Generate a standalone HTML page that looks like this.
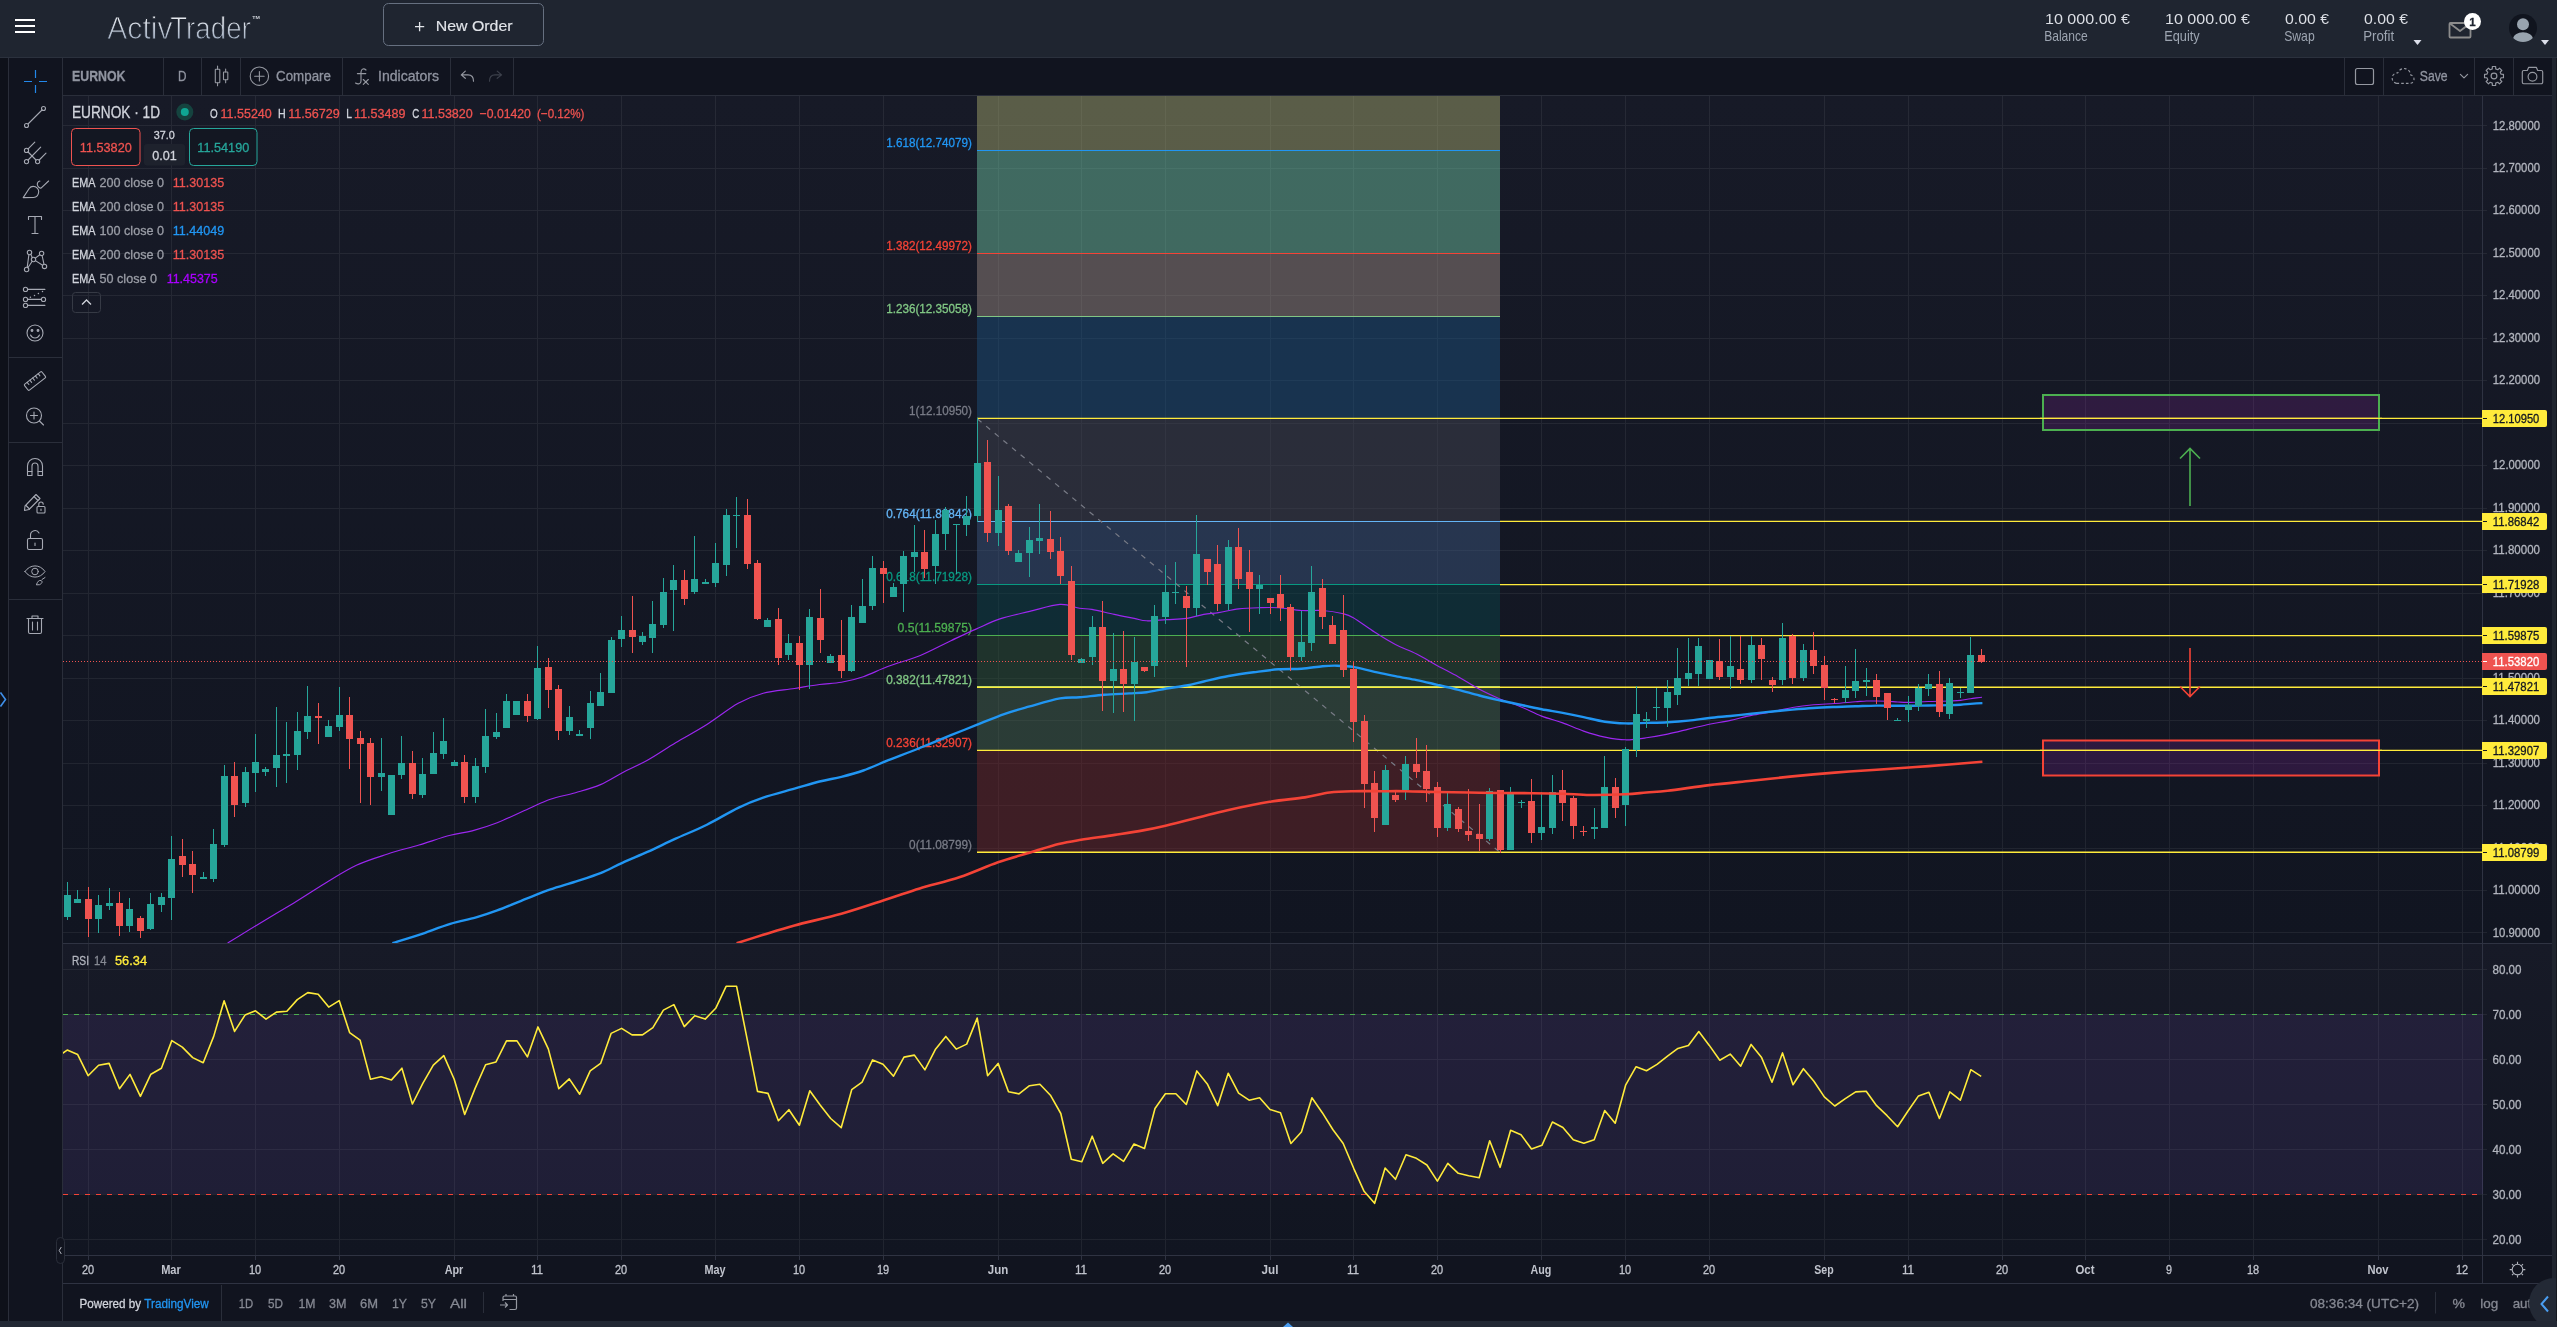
<!DOCTYPE html>
<html><head><meta charset="utf-8"><title>ActivTrader</title>
<style>html,body{margin:0;padding:0;background:#11141f;width:2557px;height:1327px;overflow:hidden;font-family:"Liberation Sans", sans-serif}svg text{font-family:"Liberation Sans", sans-serif}</style>
</head><body>
<svg width="2557" height="1327" viewBox="0 0 2557 1327" font-family='"Liberation Sans", sans-serif' style="display:block;will-change:transform">
<defs>
<linearGradient id="pg" x1="0" y1="0" x2="0" y2="1"><stop offset="0" stop-color="#171a27"/><stop offset="1" stop-color="#111521"/></linearGradient>
<linearGradient id="lg" x1="0" y1="0" x2="0" y2="1"><stop offset="0" stop-color="#ffffff"/><stop offset="1" stop-color="#8f9fb6"/></linearGradient>
<clipPath id="cm"><rect x="63" y="96" width="2420" height="847"/></clipPath>
<clipPath id="cr"><rect x="63" y="944" width="2420" height="311"/></clipPath>
</defs>
<rect x="0" y="0" width="2557" height="1327" fill="#11141f" />
<rect x="0" y="0" width="2557" height="58" fill="#1f2530" />
<line x1="0" y1="57.5" x2="2557" y2="57.5" stroke="#2b313d" stroke-width="1" />
<rect x="0" y="58" width="8" height="1263" fill="#0e111a" />
<line x1="8.5" y1="58" x2="8.5" y2="1321" stroke="#2a2e3a" stroke-width="1" />
<line x1="62.5" y1="58" x2="62.5" y2="1321" stroke="#2a2e3a" stroke-width="1" />
<rect x="2552" y="58" width="5" height="1263" fill="#20252f" />
<rect x="2556" y="58" width="1" height="1263" fill="#15181f" />
<line x1="63" y1="95.5" x2="2552" y2="95.5" stroke="#2a2e3a" stroke-width="1" />
<rect x="15" y="19" width="20" height="2" fill="#ffffff" />
<rect x="15" y="25" width="20" height="2" fill="#ffffff" />
<rect x="15" y="31" width="20" height="2" fill="#ffffff" />
<text x="107.3" y="38.7" font-size="31.6" fill="url(#lg)" stroke="#1f2530" stroke-width="0.95" textLength="65.2" lengthAdjust="spacingAndGlyphs">Activ</text>
<text x="170.2" y="38.7" font-size="31.6" fill="url(#lg)" stroke="#1f2530" stroke-width="0.95" textLength="80.6" lengthAdjust="spacingAndGlyphs">Trader</text>
<text x="252.3" y="19.3" font-size="4.2" fill="#d0d4dc" text-anchor="start" font-weight="bold" textLength="7.6" lengthAdjust="spacingAndGlyphs" >TM</text>
<rect x="383.5" y="3.5" width="160" height="42" rx="5" fill="none" stroke="#667080" stroke-width="1"/>
<path d="M415 26.7H424.2M419.6 22.1V31.3" stroke="#e3e6ea" stroke-width="1.3" fill="none"/>
<text x="435.7" y="30.9" font-size="15.2" fill="#e1e4e9" text-anchor="start" font-weight="normal" textLength="76.9" lengthAdjust="spacingAndGlyphs"  stroke="#e1e4e9" stroke-width="0.15">New Order</text>
<text x="2045" y="24.2" font-size="15.1" fill="#dcdfe5" text-anchor="start" font-weight="normal" textLength="85" lengthAdjust="spacingAndGlyphs" >10 000.00 €</text>
<text x="2044.2" y="40.8" font-size="14.5" fill="#9da5b1" text-anchor="start" font-weight="normal" textLength="43.5" lengthAdjust="spacingAndGlyphs" >Balance</text>
<text x="2165" y="24.2" font-size="15.1" fill="#dcdfe5" text-anchor="start" font-weight="normal" textLength="85" lengthAdjust="spacingAndGlyphs" >10 000.00 €</text>
<text x="2164.2" y="40.8" font-size="14.5" fill="#9da5b1" text-anchor="start" font-weight="normal" textLength="35.5" lengthAdjust="spacingAndGlyphs" >Equity</text>
<text x="2285" y="24.2" font-size="15.1" fill="#dcdfe5" text-anchor="start" font-weight="normal" textLength="44" lengthAdjust="spacingAndGlyphs" >0.00 €</text>
<text x="2284.2" y="40.8" font-size="14.5" fill="#9da5b1" text-anchor="start" font-weight="normal" textLength="30.5" lengthAdjust="spacingAndGlyphs" >Swap</text>
<text x="2364" y="24.2" font-size="15.1" fill="#dcdfe5" text-anchor="start" font-weight="normal" textLength="44" lengthAdjust="spacingAndGlyphs" >0.00 €</text>
<text x="2363.2" y="40.8" font-size="14.5" fill="#9da5b1" text-anchor="start" font-weight="normal" textLength="31.0" lengthAdjust="spacingAndGlyphs" >Profit</text>
<path d="M2413.5 40H2421.5L2417.5 45Z" fill="#dcdfea"/>
<path d="M2541 40H2549L2545 45Z" fill="#dcdfea"/>
<g fill="none" stroke="#8c8c8c" stroke-width="1.8" stroke-linejoin="round"><rect x="2449.5" y="23" width="21" height="14.5" rx="1"/><path d="M2450 23.5L2460 31L2470 23.5"/></g>
<circle cx="2472.5" cy="21.6" r="8.5" fill="#ffffff"/>
<text x="2472.5" y="25.8" font-size="11.5" fill="#1f2530" text-anchor="middle" font-weight="bold"  stroke="#1f2530" stroke-width="0.3">1</text>
<circle cx="2523" cy="28" r="14" fill="#10141e"/>
<clipPath id="av"><circle cx="2523" cy="28" r="14"/></clipPath><circle cx="2523" cy="24.2" r="6" fill="#98a3ae"/><ellipse cx="2523" cy="38.6" rx="10" ry="6.3" fill="#98a3ae" clip-path="url(#av)"/>
<line x1="163.5" y1="58" x2="163.5" y2="95" stroke="#2a2e3a" stroke-width="1" />
<line x1="201.5" y1="58" x2="201.5" y2="95" stroke="#2a2e3a" stroke-width="1" />
<line x1="240.5" y1="58" x2="240.5" y2="95" stroke="#2a2e3a" stroke-width="1" />
<line x1="342.5" y1="58" x2="342.5" y2="95" stroke="#2a2e3a" stroke-width="1" />
<line x1="450.5" y1="58" x2="450.5" y2="95" stroke="#2a2e3a" stroke-width="1" />
<line x1="513.5" y1="58" x2="513.5" y2="95" stroke="#2a2e3a" stroke-width="1" />
<line x1="2344.5" y1="58" x2="2344.5" y2="95" stroke="#2a2e3a" stroke-width="1" />
<line x1="2383.5" y1="58" x2="2383.5" y2="95" stroke="#2a2e3a" stroke-width="1" />
<line x1="2474.5" y1="58" x2="2474.5" y2="95" stroke="#2a2e3a" stroke-width="1" />
<line x1="2513.5" y1="58" x2="2513.5" y2="95" stroke="#2a2e3a" stroke-width="1" />
<text x="72" y="81" font-size="14" fill="#9094a0" text-anchor="start" font-weight="bold" textLength="53.5" lengthAdjust="spacingAndGlyphs"  stroke="#9094a0" stroke-width="0.3">EURNOK</text>
<text x="178" y="81" font-size="14" fill="#9094a0" text-anchor="start" font-weight="normal" textLength="8.5" lengthAdjust="spacingAndGlyphs"  stroke="#9094a0" stroke-width="0.3">D</text>
<text x="276" y="81" font-size="14" fill="#9094a0" text-anchor="start" font-weight="normal" textLength="55" lengthAdjust="spacingAndGlyphs"  stroke="#9094a0" stroke-width="0.3">Compare</text>
<text x="378" y="81" font-size="14" fill="#9094a0" text-anchor="start" font-weight="normal" textLength="61" lengthAdjust="spacingAndGlyphs"  stroke="#9094a0" stroke-width="0.3">Indicators</text>
<text x="2419.8" y="81" font-size="14" fill="#9094a0" text-anchor="start" font-weight="normal" textLength="27.8" lengthAdjust="spacingAndGlyphs"  stroke="#9094a0" stroke-width="0.3">Save</text>
<g transform="translate(222,76)" fill="none" stroke="#9598a1" stroke-width="1.1" stroke-linecap="round" stroke-linejoin="round" ><rect x="-6.7" y="-6.7" width="4.5" height="13.5" rx="0.5"/><path d="M-4.45-10V-6.7M-4.45 6.8V9.8"/><rect x="1.5" y="-4" width="4.3" height="7.7" rx="0.5"/><path d="M3.65-7V-4M3.65 3.7V6.7"/></g>
<g transform="translate(259.4,76.2)" fill="none" stroke="#9598a1" stroke-width="1.1" stroke-linecap="round" stroke-linejoin="round" ><circle r="9.2"/><path d="M-4.75 0H4.75M0-4.75V4.75"/></g>
<g transform="translate(361,76)" fill="none" stroke="#9598a1" stroke-width="1.15" stroke-linecap="round" stroke-linejoin="round" ><path d="M5-6C3-8 0.3-7.5 0-4V5C0 8-3 8.5-5.5 7M-3.6-2.4H4.8"/><path d="M2.3 3.5L7.3 8.3M7.3 3.5L2.3 8.3"/></g>
<g transform="translate(467.5,76)" fill="none" stroke="#9598a1" stroke-width="1.15" stroke-linecap="round" stroke-linejoin="round" ><path d="M-2.2-4.9L-6.2-1.1L-2.2 2.3M-6.2-1.1H0.5C4.5-1.1 6 2 6 5.2"/></g>
<g transform="translate(495.5,76)" fill="none" stroke="#3c404b" stroke-width="1.15" stroke-linecap="round" stroke-linejoin="round" ><path d="M1.7-4.9L6.1-1.1L1.7 2.3M6.1-1.1H-0.5C-4.5-1.1-6 2-6 5.2"/></g>
<g transform="translate(2364.5,76.5)" fill="none" stroke="#9598a1" stroke-width="1.2" stroke-linecap="round" stroke-linejoin="round" ><rect x="-9" y="-8" width="18" height="16" rx="2"/></g>
<g transform="translate(2403,77.5)" fill="none" stroke="#9598a1" stroke-width="1.1" stroke-linecap="round" stroke-linejoin="round" ><path stroke-linecap="butt" d="M-6.5 5.9H7A4.3 4.3 0 0 0 7.6-2.6A6.6 6.6 0 0 0-5.2-4.6A5.3 5.3 0 0 0-6.5 5.9Z" stroke-dasharray="2.6 2.1"/></g>
<g transform="translate(2464,76)" fill="none" stroke="#9598a1" stroke-width="1.15" stroke-linecap="round" stroke-linejoin="round" ><path d="M-3.6-1.7L0 1.8L3.6-1.7"/></g>
<g transform="translate(2494,76)" fill="none" stroke="#9598a1" stroke-width="1.15" stroke-linecap="round" stroke-linejoin="round" ><path d="M9.46 -1.65L9.46 1.65L7.10 1.70L6.22 3.81L7.85 5.52L5.52 7.85L3.81 6.22L1.70 7.10L1.65 9.46L-1.65 9.46L-1.70 7.10L-3.81 6.22L-5.52 7.85L-7.85 5.52L-6.22 3.81L-7.10 1.70L-9.46 1.65L-9.46 -1.65L-7.10 -1.70L-6.22 -3.81L-7.85 -5.52L-5.52 -7.85L-3.81 -6.22L-1.70 -7.10L-1.65 -9.46L1.65 -9.46L1.70 -7.10L3.81 -6.22L5.52 -7.85L7.85 -5.52L6.22 -3.81L7.10 -1.70Z" stroke-linejoin="round"/><circle r="2.9"/></g>
<g transform="translate(2532.5,76.5)" fill="none" stroke="#9598a1" stroke-width="1.15" stroke-linecap="round" stroke-linejoin="round" ><path d="M-8.8-6H-5.2L-3.8-9.2H3.8L5.2-6H8.8A1.4 1.4 0 0 1 10.2-4.6V5.8A1.4 1.4 0 0 1 8.8 7.2H-8.8A1.4 1.4 0 0 1-10.2 5.8V-4.6A1.4 1.4 0 0 1-8.8-6Z"/><circle cy="0.2" r="4.4"/></g>
<g transform="translate(35.5,81.5)" fill="none" stroke="#2388ea" stroke-width="1.2" stroke-linecap="round" stroke-linejoin="round" ><path stroke-linecap="butt" d="M0-11.5V-3.5M0 3.5V11.5M-11.5 0H-3.5M3.5 0H11.5"/></g>
<g transform="translate(35,117)" fill="none" stroke="#a6a9b3" stroke-width="1.1" stroke-linecap="round" stroke-linejoin="round" ><circle cx="-8.5" cy="8.5" r="2"/><circle cx="8.5" cy="-8.5" r="2"/><path d="M-7 7L7-7"/></g>
<g transform="translate(35,153)" fill="none" stroke="#a6a9b3" stroke-width="1.1" stroke-linecap="round" stroke-linejoin="round" ><circle cx="-8.5" cy="-2.6" r="2.1"/><circle cx="-8.5" cy="8.6" r="2.1"/><circle cx="2.6" cy="8.6" r="2.1"/><path d="M-6.9-4.2L-0.2-10.9M-6.9 7L5.7-5.9M4.2 7L11 0.1M-6.9-1L1 7"/></g>
<g transform="translate(35,189)" fill="none" stroke="#a6a9b3" stroke-width="1.1" stroke-linecap="round" stroke-linejoin="round" ><path d="M-11.8 8.6L-5.8-0.5C-4.5-2.3-3-2.6-1.9-2.6C1.5-2.6 3.9 0 3.7 2.8C3.5 6 1.5 8.3-1.5 8.5Z"/><path d="M4.9-8C2.5-7.5 1.6-5 2.8-3C3.8-1.2 5.2-0.6 6.3-1.1L13.6-8"/></g>
<g transform="translate(35,225)" fill="none" stroke="#a6a9b3" stroke-width="1.1" stroke-linecap="round" stroke-linejoin="round" ><path d="M-6.5-5.5V-8.5H6.5V-5.5M0-8.5V8.5M-3 8.5H3"/></g>
<g transform="translate(35,261)" fill="none" stroke="#a6a9b3" stroke-width="1.1" stroke-linecap="round" stroke-linejoin="round" ><circle cx="-5.5" cy="-8.5" r="2.2"/><circle cx="6.6" cy="-7.6" r="2.2"/><circle cx="-1.5" cy="-1.5" r="2.2"/><circle cx="-8.4" cy="8.5" r="2.2"/><circle cx="9.5" cy="5.4" r="2.2"/><path d="M-6.1-6.4L-7.8 6.4M-4.2-6.7L-2.7-3.3M0.3-2.9L4.8-6.3M7.1-5.5L9 3.3M0.4-0.4L7.6 4.2M-2.8 0.3L-7.1 6.7"/></g>
<g transform="translate(35,297)" fill="none" stroke="#a6a9b3" stroke-width="1.1" stroke-linecap="round" stroke-linejoin="round" ><circle cx="-9.5" cy="-7.6" r="2.1"/><circle cx="-9.5" cy="2.4" r="2.1"/><circle cx="8.5" cy="2.4" r="2.1"/><circle cx="-9.5" cy="8.4" r="2.1"/><path d="M-7.4-7.6H9.9M-7.4 2.4H6.4M-7.4 8.4H9.9"/><path d="M-4.6 0.2h0.01M-0.5-1.6h0.01M3.4-3.6h0.01M7.5-5.5h0.01" stroke-width="1.5"/></g>
<g transform="translate(35,333)" fill="none" stroke="#a6a9b3" stroke-width="1.1" stroke-linecap="round" stroke-linejoin="round" ><circle r="8"/><circle cx="-3" cy="-2.5" r="0.9" fill="#a6a9b3"/><circle cx="3" cy="-2.5" r="0.9" fill="#a6a9b3"/><path d="M-4.5 2C-2.5 6 2.5 6 4.5 2"/></g>
<g transform="translate(35,381)" fill="none" stroke="#a6a9b3" stroke-width="1.1" stroke-linecap="round" stroke-linejoin="round" ><g transform="rotate(-38)"><rect x="-11" y="-3.8" width="22" height="7.6" rx="1"/><path d="M-7-3.8V-1M-3.5-3.8V-1M0-3.8V-1M3.5-3.8V-1M7-3.8V-1"/></g></g>
<g transform="translate(35,417)" fill="none" stroke="#a6a9b3" stroke-width="1.1" stroke-linecap="round" stroke-linejoin="round" ><circle cx="-1" cy="-1.5" r="7.5"/><path d="M-4.5-1.5H2.5M-1-5V2M4.5 4L8.5 8"/></g>
<g transform="translate(35,467)" fill="none" stroke="#a6a9b3" stroke-width="1.1" stroke-linecap="round" stroke-linejoin="round" ><path d="M-7.5 8.5V-1A7.5 7.5 0 0 1 7.5-1V8.5H3V-1A3 3 0 0 0-3-1V8.5Z"/><path d="M-7.5 4.5H-3M3 4.5H7.5"/></g>
<g transform="translate(35,503)" fill="none" stroke="#a6a9b3" stroke-width="1.1" stroke-linecap="round" stroke-linejoin="round" ><path d="M-10 3L1-8.5L5-4.5L-6 6.5L-10.5 7.5Z"/><path d="M-1-6.5L3-2.5M-9 2.5L-5.5 6"/><rect x="2" y="3.5" width="8" height="6.5" rx="1"/><path d="M3.8 3.5V1.2A2.2 2.2 0 0 1 8.2 1.2"/><path d="M6 6V7.5"/></g>
<g transform="translate(35,540)" fill="none" stroke="#a6a9b3" stroke-width="1.1" stroke-linecap="round" stroke-linejoin="round" ><rect x="-7.5" y="-1.5" width="15" height="11" rx="1.5"/><path d="M-4.5-1.5V-5A4.5 4.5 0 0 1 4-7"/><path d="M0 3V5.5"/></g>
<g transform="translate(35,574)" fill="none" stroke="#a6a9b3" stroke-width="1.0" stroke-linecap="round" stroke-linejoin="round" ><path d="M-10-2.5C-5-10 5-10 10-2.5C5 5-5 5-10-2.5Z"/><circle cx="0" cy="-2.5" r="3.3"/><path d="M1.5 10.5C2.5 7.5 4 6 6 6.5C8 7.5 7 9.5 5 10.5ZM7 5.5L10 3.5"/></g>
<g transform="translate(35,625)" fill="none" stroke="#a6a9b3" stroke-width="1.1" stroke-linecap="round" stroke-linejoin="round" ><path d="M-8-6.5H8M-3-6.5V-9H3V-6.5M-6.5-6.5V7A1.5 1.5 0 0 0-5 8.5H5A1.5 1.5 0 0 0 6.5 7V-6.5M-2.5-3V5M2.5-3V5"/></g>
<line x1="9" y1="357.5" x2="62" y2="357.5" stroke="#2a2e3a" stroke-width="1" />
<line x1="9" y1="442.5" x2="62" y2="442.5" stroke="#2a2e3a" stroke-width="1" />
<line x1="9" y1="599.5" x2="62" y2="599.5" stroke="#2a2e3a" stroke-width="1" />
<path d="M0.5 692.5L5.5 699.5L0.5 706.5" fill="none" stroke="#3f8fe8" stroke-width="1.6"/>
<rect x="63" y="96" width="2489" height="847" fill="url(#pg)" />
<rect x="63" y="944" width="2489" height="311" fill="url(#pg)" />
<rect x="63" y="1255" width="2489" height="66" fill="#11141f" />
<path d="M88.5 96V943M88.5 944V1259M171.5 96V943M171.5 944V1259M255.5 96V943M255.5 944V1259M339.5 96V943M339.5 944V1259M454.5 96V943M454.5 944V1259M537.5 96V943M537.5 944V1259M621.5 96V943M621.5 944V1259M715.5 96V943M715.5 944V1259M799.5 96V943M799.5 944V1259M883.5 96V943M883.5 944V1259M998.5 96V943M998.5 944V1259M1081.5 96V943M1081.5 944V1259M1165.5 96V943M1165.5 944V1259M1270.5 96V943M1270.5 944V1259M1353.5 96V943M1353.5 944V1259M1437.5 96V943M1437.5 944V1259M1541.5 96V943M1541.5 944V1259M1625.5 96V943M1625.5 944V1259M1709.5 96V943M1709.5 944V1259M1824.5 96V943M1824.5 944V1259M1908.5 96V943M1908.5 944V1259M2002.5 96V943M2002.5 944V1259M2085.5 96V943M2085.5 944V1259M2169.5 96V943M2169.5 944V1259M2253.5 96V943M2253.5 944V1259M2378.5 96V943M2378.5 944V1259M2462.5 96V943M2462.5 944V1259M63 125.5H2487M63 168.5H2487M63 210.5H2487M63 253.5H2487M63 295.5H2487M63 338.5H2487M63 380.5H2487M63 423.5H2487M63 465.5H2487M63 508.5H2487M63 550.5H2487M63 593.5H2487M63 635.5H2487M63 678.5H2487M63 720.5H2487M63 763.5H2487M63 805.5H2487M63 848.5H2487M63 890.5H2487M63 932.5H2487M63 969.5H2487M63 1014.5H2487M63 1059.5H2487M63 1104.5H2487M63 1149.5H2487M63 1194.5H2487M63 1239.5H2487" stroke="rgba(255,255,255,0.065)" stroke-width="1" fill="none" shape-rendering="crispEdges"/>
<line x1="63" y1="943.5" x2="2552" y2="943.5" stroke="#2f3342" stroke-width="1" />
<line x1="63" y1="1255.5" x2="2552" y2="1255.5" stroke="#2f3342" stroke-width="1" />
<line x1="63" y1="1283.5" x2="2552" y2="1283.5" stroke="#2f3342" stroke-width="1" />
<line x1="2482.5" y1="96" x2="2482.5" y2="1283" stroke="#2f3342" stroke-width="1" />
<rect x="977" y="96" width="523" height="54.6" fill="rgba(174,175,113,0.45)" />
<rect x="977" y="150.6" width="523" height="102.4" fill="rgba(115,205,169,0.45)" />
<rect x="977" y="253.0" width="523" height="63.3" fill="rgba(162,145,136,0.45)" />
<rect x="977" y="316.4" width="523" height="102.4" fill="rgba(28,84,130,0.45)" />
<rect x="977" y="418.8" width="523" height="102.4" fill="rgba(68,71,84,0.45)" />
<rect x="977" y="521.2" width="523" height="63.3" fill="rgba(63,92,132,0.45)" />
<rect x="977" y="584.5" width="523" height="51.2" fill="rgba(10,72,75,0.45)" />
<rect x="977" y="635.7" width="523" height="51.2" fill="rgba(46,86,55,0.45)" />
<rect x="977" y="686.9" width="523" height="63.3" fill="rgba(73,106,80,0.45)" />
<rect x="977" y="750.3" width="523" height="102.4" fill="rgba(118,40,43,0.45)" />
<line x1="977" y1="150.5" x2="1500" y2="150.5" stroke="#2196f3" stroke-width="1.2" />
<line x1="977" y1="253.5" x2="1500" y2="253.5" stroke="#f44336" stroke-width="1.2" />
<line x1="977" y1="316.5" x2="1500" y2="316.5" stroke="#81c784" stroke-width="1.2" />
<line x1="977" y1="418.5" x2="1500" y2="418.5" stroke="#787b86" stroke-width="1.2" />
<line x1="977" y1="521.5" x2="1500" y2="521.5" stroke="#64b5f6" stroke-width="1.2" />
<line x1="977" y1="584.5" x2="1500" y2="584.5" stroke="#089981" stroke-width="1.2" />
<line x1="977" y1="635.5" x2="1500" y2="635.5" stroke="#4caf50" stroke-width="1.2" />
<line x1="977" y1="686.5" x2="1500" y2="686.5" stroke="#81c784" stroke-width="1.2" />
<line x1="977" y1="750.5" x2="1500" y2="750.5" stroke="#f44336" stroke-width="1.2" />
<line x1="977" y1="852.5" x2="1500" y2="852.5" stroke="#787b86" stroke-width="1.2" />
<line x1="977.5" y1="419" x2="1499.5" y2="852" stroke="#787b86" stroke-width="1.2" stroke-dasharray="5.2 6"/>
<text x="972" y="147.2" font-size="12" fill="#2196f3" text-anchor="end" font-weight="normal" textLength="85.8" lengthAdjust="spacingAndGlyphs"  stroke="#2196f3" stroke-width="0.3">1.618(12.74079)</text>
<text x="972" y="250.2" font-size="12" fill="#f44336" text-anchor="end" font-weight="normal" textLength="85.8" lengthAdjust="spacingAndGlyphs"  stroke="#f44336" stroke-width="0.3">1.382(12.49972)</text>
<text x="972" y="313.2" font-size="12" fill="#81c784" text-anchor="end" font-weight="normal" textLength="85.8" lengthAdjust="spacingAndGlyphs"  stroke="#81c784" stroke-width="0.3">1.236(12.35058)</text>
<text x="972" y="415.2" font-size="12" fill="#787b86" text-anchor="end" font-weight="normal" textLength="62.9" lengthAdjust="spacingAndGlyphs"  stroke="#787b86" stroke-width="0.3">1(12.10950)</text>
<text x="972" y="518.2" font-size="12" fill="#64b5f6" text-anchor="end" font-weight="normal" textLength="85.8" lengthAdjust="spacingAndGlyphs"  stroke="#64b5f6" stroke-width="0.3">0.764(11.86842)</text>
<text x="972" y="581.2" font-size="12" fill="#089981" text-anchor="end" font-weight="normal" textLength="85.8" lengthAdjust="spacingAndGlyphs"  stroke="#089981" stroke-width="0.3">0.618(11.71928)</text>
<text x="972" y="632.2" font-size="12" fill="#4caf50" text-anchor="end" font-weight="normal" textLength="74.4" lengthAdjust="spacingAndGlyphs"  stroke="#4caf50" stroke-width="0.3">0.5(11.59875)</text>
<text x="972" y="684.2" font-size="12" fill="#81c784" text-anchor="end" font-weight="normal" textLength="85.8" lengthAdjust="spacingAndGlyphs"  stroke="#81c784" stroke-width="0.3">0.382(11.47821)</text>
<text x="972" y="747.2" font-size="12" fill="#f44336" text-anchor="end" font-weight="normal" textLength="85.8" lengthAdjust="spacingAndGlyphs"  stroke="#f44336" stroke-width="0.3">0.236(11.32907)</text>
<text x="972" y="849.2" font-size="12" fill="#787b86" text-anchor="end" font-weight="normal" textLength="62.9" lengthAdjust="spacingAndGlyphs"  stroke="#787b86" stroke-width="0.3">0(11.08799)</text>
<line x1="977" y1="418.4" x2="2483" y2="418.4" stroke="#ffeb3b" stroke-width="1.4" />
<line x1="1500" y1="521.4" x2="2483" y2="521.4" stroke="#ffeb3b" stroke-width="1.4" />
<line x1="1500" y1="584.6" x2="2483" y2="584.6" stroke="#ffeb3b" stroke-width="1.4" />
<line x1="1500" y1="635.6" x2="2483" y2="635.6" stroke="#ffeb3b" stroke-width="1.4" />
<line x1="977" y1="687.3" x2="2483" y2="687.3" stroke="#ffeb3b" stroke-width="1.4" />
<line x1="977" y1="750.4" x2="2483" y2="750.4" stroke="#ffeb3b" stroke-width="1.4" />
<line x1="977" y1="852.3" x2="2483" y2="852.3" stroke="#ffeb3b" stroke-width="1.4" />
<rect x="2043" y="395" width="336" height="35" fill="rgba(156,39,176,0.2)" stroke="#4caf50" stroke-width="2"/>
<rect x="2043" y="740.5" width="336" height="35" fill="rgba(156,39,176,0.2)" stroke="#f44336" stroke-width="2"/>
<line x1="2040" y1="418.4" x2="2382" y2="418.4" stroke="#ffeb3b" stroke-width="1.4" />
<line x1="2040" y1="750.4" x2="2382" y2="750.4" stroke="#ffeb3b" stroke-width="1.4" />
<path d="M2190 506V449M2180 458.5L2190 448.5L2200 458.5" fill="none" stroke="#4caf50" stroke-width="1.6"/>
<path d="M2190 648V696M2180 686.5L2190 696.5L2200 686.5" fill="none" stroke="#f44336" stroke-width="1.6"/>
<path d="M227.5 943.2C232.3 940.2 245.2 932.1 256.3 925.4C267.4 918.7 282.4 909.9 293.9 902.9C305.4 895.9 314.8 889.5 325.2 883.2C335.6 876.9 346.0 870.2 356.4 865.3C366.8 860.4 377.3 857.4 387.7 854.0C398.1 850.6 408.6 848.1 419.0 845.0C429.4 841.9 441.4 837.6 450.3 835.3C459.2 832.9 464.4 833.0 472.2 830.9C480.0 828.8 487.8 826.5 497.2 822.8C506.6 819.1 519.6 812.6 528.5 808.7C537.4 804.8 542.6 802.0 550.4 799.3C558.2 796.6 567.1 795.2 575.5 792.7C583.9 790.2 592.7 787.9 600.5 784.6C608.3 781.3 614.6 776.8 622.4 772.7C630.2 768.6 638.5 765.2 647.4 760.2C656.3 755.2 665.7 748.7 675.6 742.7C685.5 736.8 696.5 731.1 706.9 724.5C717.3 717.9 728.8 708.5 738.2 703.3C747.6 698.1 753.8 695.7 763.2 693.2C772.6 690.7 785.1 690.0 794.5 688.5C803.9 687.0 811.7 685.5 819.5 684.5C827.3 683.5 834.1 683.6 841.4 682.3C848.7 681.0 855.5 679.4 863.3 676.7C871.1 674.0 879.0 669.8 888.4 666.3C897.8 662.8 909.3 660.0 919.7 655.7C930.1 651.4 941.5 645.1 950.9 640.7C960.3 636.3 967.8 632.7 976.0 629.1C984.2 625.5 990.9 621.9 999.9 618.9C1008.9 615.9 1019.7 613.8 1029.7 611.4C1039.7 609.0 1051.7 604.9 1060.0 604.4C1068.3 603.9 1074.2 607.4 1079.5 608.2C1084.8 609.0 1086.1 608.4 1091.9 609.4C1097.7 610.4 1107.2 612.9 1114.3 614.4C1121.3 615.9 1128.8 617.3 1134.2 618.4C1139.6 619.5 1141.2 620.6 1146.6 620.8C1152.0 621.0 1159.9 620.0 1166.5 619.6C1173.1 619.2 1180.2 619.3 1186.4 618.4C1192.6 617.5 1198.4 615.4 1203.8 614.4C1209.2 613.4 1212.9 613.5 1218.7 612.6C1224.5 611.7 1232.0 609.7 1238.6 608.9C1245.2 608.1 1251.9 607.9 1258.5 607.7C1265.1 607.5 1271.2 607.2 1278.4 607.7C1285.6 608.2 1294.2 610.0 1301.6 610.5C1308.9 611.0 1315.7 610.0 1322.5 610.5C1329.3 611.0 1337.1 612.3 1342.2 613.5C1347.3 614.7 1347.9 614.6 1353.3 617.7C1358.7 620.8 1367.5 627.6 1374.5 632.1C1381.5 636.6 1388.4 640.9 1395.4 644.5C1402.4 648.1 1409.7 650.5 1416.7 654.0C1423.7 657.5 1430.4 661.9 1437.4 665.7C1444.4 669.5 1451.5 673.0 1458.5 676.9C1465.5 680.8 1472.4 685.6 1479.4 689.3C1486.4 693.0 1493.5 696.2 1500.5 699.2C1507.5 702.2 1514.9 704.4 1521.7 707.2C1528.5 710.0 1534.8 713.5 1541.6 716.1C1548.4 718.7 1555.7 720.4 1562.7 722.9C1569.7 725.4 1576.6 728.7 1583.6 731.1C1590.6 733.5 1597.9 735.7 1604.9 737.1C1611.9 738.5 1618.7 739.7 1625.6 739.8C1632.5 739.9 1639.4 738.8 1646.4 737.8C1653.4 736.8 1660.6 735.5 1667.6 734.1C1674.6 732.7 1681.5 730.8 1688.5 729.1C1695.5 727.5 1702.3 725.7 1709.3 724.2C1716.3 722.8 1723.5 721.9 1730.5 720.4C1737.5 718.9 1744.4 716.8 1751.4 715.4C1758.4 714.0 1765.7 713.0 1772.5 711.7C1779.3 710.4 1785.6 708.6 1792.4 707.5C1799.2 706.4 1806.5 705.5 1813.5 704.8C1820.5 704.1 1827.7 704.0 1834.7 703.5C1841.7 703.0 1850.2 702.2 1855.5 701.8C1860.8 701.4 1863.0 701.1 1866.5 701.0C1870.0 700.9 1873.2 701.0 1876.7 701.0C1880.2 701.0 1884.1 701.1 1887.6 701.3C1891.1 701.5 1894.3 701.8 1897.8 702.0C1901.3 702.2 1903.4 702.5 1908.5 702.4C1913.6 702.3 1921.6 701.7 1928.4 701.5C1935.2 701.3 1944.0 701.2 1949.4 701.0C1954.8 700.8 1957.1 700.8 1960.6 700.4C1964.1 700.0 1966.9 699.2 1970.5 698.7C1974.1 698.2 1980.1 697.5 1982.0 697.2" fill="none" stroke="#9c27f0" stroke-width="1.15" stroke-linejoin="round" clip-path="url(#cm)"/>
<path d="M392.4 943.2C396.8 941.8 409.4 938.0 419.0 934.8C428.6 931.6 440.9 926.7 450.3 923.8C459.7 920.9 467.5 919.8 475.3 917.6C483.1 915.4 488.3 913.7 497.2 910.4C506.1 907.1 519.6 901.4 528.5 897.9C537.4 894.4 542.6 892.1 550.4 889.4C558.2 886.7 567.1 884.3 575.5 881.6C583.9 878.9 592.7 876.3 600.5 873.2C608.3 870.1 614.6 866.3 622.4 862.8C630.2 859.2 638.5 855.9 647.4 851.9C656.3 847.9 665.7 843.2 675.6 838.7C685.5 834.2 696.5 829.9 706.9 824.7C717.3 819.6 728.8 812.3 738.2 807.8C747.6 803.3 753.8 800.9 763.2 797.7C772.6 794.5 785.1 791.4 794.5 788.7C803.9 786.0 811.7 783.5 819.5 781.5C827.3 779.5 834.1 778.6 841.4 776.8C848.7 775.0 855.5 773.3 863.3 770.5C871.1 767.7 879.0 764.0 888.4 760.2C897.8 756.5 909.3 752.2 919.7 748.0C930.1 743.8 941.5 739.0 950.9 735.2C960.3 731.4 967.0 728.8 976.0 725.2C985.0 721.6 995.9 716.9 1004.9 713.8C1013.9 710.7 1020.5 709.0 1029.7 706.4C1038.9 703.8 1051.7 699.9 1060.0 698.4C1068.3 696.9 1072.1 697.8 1079.5 697.2C1086.9 696.6 1096.0 695.3 1104.3 694.7C1112.6 694.1 1122.2 693.8 1129.2 693.4C1136.2 693.0 1140.4 693.0 1146.6 692.2C1152.8 691.4 1159.9 689.6 1166.5 688.5C1173.1 687.4 1180.2 686.7 1186.4 685.5C1192.6 684.3 1196.8 683.1 1203.8 681.5C1210.8 679.9 1220.3 677.5 1228.6 676.0C1236.9 674.5 1245.2 673.4 1253.5 672.3C1261.8 671.2 1270.4 669.9 1278.4 669.3C1286.4 668.7 1294.2 669.2 1301.6 668.7C1308.9 668.2 1316.6 666.7 1322.5 666.2C1328.4 665.7 1332.1 665.6 1337.2 665.7C1342.3 665.8 1347.1 665.9 1353.3 666.9C1359.5 667.9 1367.5 670.4 1374.5 671.9C1381.5 673.4 1388.4 674.7 1395.4 676.1C1402.4 677.5 1409.7 678.7 1416.7 680.1C1423.7 681.5 1430.4 683.2 1437.4 684.8C1444.4 686.4 1451.5 688.0 1458.5 689.8C1465.5 691.6 1472.4 693.7 1479.4 695.5C1486.4 697.3 1493.5 698.9 1500.5 700.5C1507.5 702.1 1514.9 703.5 1521.7 705.0C1528.5 706.5 1534.8 707.9 1541.6 709.2C1548.4 710.5 1555.7 711.6 1562.7 712.9C1569.7 714.2 1576.6 715.6 1583.6 717.1C1590.6 718.6 1597.9 720.7 1604.9 721.7C1611.9 722.8 1618.7 723.2 1625.6 723.4C1632.5 723.6 1639.4 723.1 1646.4 722.9C1653.4 722.7 1660.6 722.6 1667.6 722.2C1674.6 721.8 1681.5 721.3 1688.5 720.6C1695.5 719.9 1702.3 718.8 1709.3 718.0C1716.3 717.2 1723.5 716.7 1730.5 716.0C1737.5 715.3 1744.4 714.5 1751.4 713.8C1758.4 713.0 1765.7 712.2 1772.5 711.5C1779.3 710.8 1785.6 710.2 1792.4 709.6C1799.2 709.0 1806.5 708.4 1813.5 708.0C1820.5 707.6 1827.7 707.3 1834.7 707.0C1841.7 706.7 1848.5 706.4 1855.5 706.2C1862.5 706.0 1869.7 705.7 1876.7 705.6C1883.8 705.5 1892.5 705.8 1897.8 705.8C1903.1 705.8 1903.4 705.8 1908.5 705.8C1913.6 705.8 1921.6 705.6 1928.4 705.5C1935.2 705.4 1944.0 705.2 1949.4 705.1C1954.8 705.0 1957.1 704.9 1960.6 704.7C1964.1 704.5 1966.9 704.2 1970.5 703.9C1974.1 703.6 1980.4 703.2 1982.4 703.1" fill="none" stroke="#2196f3" stroke-width="2.4" stroke-linejoin="round" clip-path="url(#cm)"/>
<g shape-rendering="crispEdges" clip-path="url(#cm)"><path d="M67 882h1V920h-1ZM77 890h1V903h-1ZM98 895h1V933h-1ZM109 888h1V910h-1ZM129 898h1V932h-1ZM150 893h1V930h-1ZM161 893h1V912h-1ZM171 836h1V920h-1ZM203 872h1V879h-1ZM213 829h1V882h-1ZM224 765h1V847h-1ZM245 767h1V807h-1ZM255 734h1V792h-1ZM265 767h1V776h-1ZM276 707h1V787h-1ZM286 722h1V783h-1ZM297 712h1V770h-1ZM307 686h1V739h-1ZM328 720h1V737h-1ZM339 687h1V731h-1ZM381 738h1V791h-1ZM391 775h1V815h-1ZM401 736h1V779h-1ZM422 758h1V798h-1ZM433 732h1V774h-1ZM443 718h1V759h-1ZM454 760h1V766h-1ZM475 758h1V803h-1ZM485 709h1V773h-1ZM496 713h1V739h-1ZM506 694h1V728h-1ZM516 701h1V715h-1ZM537 646h1V720h-1ZM569 706h1V735h-1ZM579 730h1V736h-1ZM590 691h1V739h-1ZM600 673h1V706h-1ZM611 637h1V693h-1ZM621 616h1V647h-1ZM642 632h1V645h-1ZM652 601h1V653h-1ZM663 578h1V628h-1ZM673 565h1V631h-1ZM694 536h1V594h-1ZM705 579h1V584h-1ZM715 543h1V587h-1ZM726 509h1V576h-1ZM736 497h1V548h-1ZM767 618h1V627h-1ZM788 634h1V660h-1ZM809 609h1V689h-1ZM830 654h1V663h-1ZM851 605h1V672h-1ZM862 579h1V623h-1ZM872 556h1V610h-1ZM893 583h1V597h-1ZM903 551h1V612h-1ZM914 525h1V572h-1ZM935 520h1V584h-1ZM945 507h1V550h-1ZM956 524h1V574h-1ZM966 496h1V536h-1ZM977 418h1V522h-1ZM998 476h1V546h-1ZM1018 550h1V562h-1ZM1029 527h1V577h-1ZM1039 504h1V554h-1ZM1081 658h1V663h-1ZM1092 616h1V665h-1ZM1113 633h1V713h-1ZM1134 637h1V721h-1ZM1154 605h1V677h-1ZM1165 565h1V624h-1ZM1175 562h1V604h-1ZM1196 515h1V616h-1ZM1228 540h1V610h-1ZM1259 575h1V614h-1ZM1301 611h1V661h-1ZM1311 566h1V651h-1ZM1385 765h1V825h-1ZM1405 756h1V800h-1ZM1447 792h1V831h-1ZM1489 788h1V841h-1ZM1510 787h1V850h-1ZM1521 800h1V808h-1ZM1541 792h1V840h-1ZM1552 775h1V834h-1ZM1594 808h1V839h-1ZM1604 756h1V828h-1ZM1625 747h1V826h-1ZM1636 686h1V757h-1ZM1646 712h1V728h-1ZM1656 688h1V720h-1ZM1667 680h1V727h-1ZM1677 648h1V705h-1ZM1688 638h1V686h-1ZM1698 638h1V686h-1ZM1709 660h1V679h-1ZM1730 636h1V689h-1ZM1751 636h1V683h-1ZM1782 623h1V685h-1ZM1803 644h1V681h-1ZM1845 666h1V703h-1ZM1855 649h1V698h-1ZM1866 668h1V696h-1ZM1897 718h1V721h-1ZM1908 696h1V722h-1ZM1918 684h1V711h-1ZM1928 674h1V696h-1ZM1949 678h1V719h-1ZM1960 688h1V698h-1ZM1970 637h1V693h-1ZM64 895h7V917h-7ZM74 899h7V903h-7ZM95 905h7V919h-7ZM106 903h7V906h-7ZM126 909h7V926h-7ZM147 904h7V929h-7ZM158 897h7V905h-7ZM168 859h7V898h-7ZM200 877h7V879h-7ZM210 844h7V879h-7ZM221 776h7V845h-7ZM242 772h7V803h-7ZM252 762h7V773h-7ZM262 769h7V772h-7ZM273 755h7V768h-7ZM283 754h7V756h-7ZM294 731h7V755h-7ZM304 716h7V732h-7ZM325 726h7V737h-7ZM336 715h7V727h-7ZM378 773h7V777h-7ZM388 775h7V815h-7ZM398 763h7V775h-7ZM419 774h7V795h-7ZM430 753h7V774h-7ZM440 741h7V754h-7ZM451 762h7V766h-7ZM472 766h7V797h-7ZM482 736h7V767h-7ZM493 732h7V737h-7ZM503 701h7V728h-7ZM513 701h7V715h-7ZM534 668h7V719h-7ZM566 717h7V731h-7ZM576 734h7V736h-7ZM587 703h7V728h-7ZM597 692h7V706h-7ZM608 640h7V693h-7ZM618 630h7V639h-7ZM639 636h7V642h-7ZM649 624h7V638h-7ZM660 592h7V625h-7ZM670 580h7V590h-7ZM691 579h7V592h-7ZM702 582h7V584h-7ZM712 563h7V583h-7ZM723 515h7V565h-7ZM733 515h7V516h-7ZM764 620h7V627h-7ZM785 643h7V655h-7ZM806 617h7V665h-7ZM827 656h7V663h-7ZM848 617h7V671h-7ZM859 606h7V623h-7ZM869 568h7V606h-7ZM890 587h7V597h-7ZM900 556h7V584h-7ZM911 552h7V557h-7ZM932 534h7V566h-7ZM942 510h7V534h-7ZM953 524h7V525h-7ZM963 516h7V525h-7ZM974 463h7V516h-7ZM995 510h7V533h-7ZM1015 553h7V562h-7ZM1026 540h7V553h-7ZM1036 538h7V541h-7ZM1078 659h7V663h-7ZM1089 627h7V657h-7ZM1110 669h7V681h-7ZM1131 662h7V684h-7ZM1151 616h7V666h-7ZM1162 592h7V617h-7ZM1172 592h7V593h-7ZM1193 554h7V608h-7ZM1225 547h7V604h-7ZM1256 585h7V589h-7ZM1298 642h7V657h-7ZM1308 592h7V643h-7ZM1382 770h7V825h-7ZM1402 764h7V790h-7ZM1444 804h7V828h-7ZM1486 791h7V839h-7ZM1507 793h7V850h-7ZM1518 802h7V803h-7ZM1538 827h7V833h-7ZM1549 792h7V828h-7ZM1591 827h7V829h-7ZM1601 787h7V828h-7ZM1622 749h7V805h-7ZM1633 714h7V750h-7ZM1643 719h7V721h-7ZM1653 707h7V708h-7ZM1664 692h7V708h-7ZM1674 678h7V695h-7ZM1685 673h7V679h-7ZM1695 646h7V674h-7ZM1706 660h7V679h-7ZM1727 666h7V677h-7ZM1748 645h7V680h-7ZM1779 638h7V680h-7ZM1800 650h7V678h-7ZM1842 690h7V698h-7ZM1852 681h7V691h-7ZM1863 680h7V682h-7ZM1894 720h7V721h-7ZM1905 705h7V710h-7ZM1915 688h7V706h-7ZM1925 684h7V689h-7ZM1946 683h7V714h-7ZM1957 692h7V693h-7ZM1967 655h7V693h-7Z" fill="#26a69a"/><path d="M88 887h1V937h-1ZM119 892h1V936h-1ZM140 916h1V938h-1ZM182 839h1V877h-1ZM192 851h1V893h-1ZM234 762h1V817h-1ZM318 703h1V744h-1ZM349 697h1V769h-1ZM360 731h1V803h-1ZM370 738h1V805h-1ZM412 751h1V799h-1ZM464 755h1V803h-1ZM527 694h1V722h-1ZM548 658h1V708h-1ZM558 685h1V740h-1ZM632 596h1V653h-1ZM684 570h1V605h-1ZM747 499h1V569h-1ZM757 560h1V620h-1ZM778 608h1V665h-1ZM799 636h1V690h-1ZM820 589h1V653h-1ZM841 620h1V678h-1ZM883 561h1V603h-1ZM924 530h1V578h-1ZM987 440h1V542h-1ZM1008 504h1V555h-1ZM1050 511h1V559h-1ZM1060 537h1V584h-1ZM1071 566h1V660h-1ZM1102 601h1V711h-1ZM1123 631h1V712h-1ZM1144 667h1V672h-1ZM1186 586h1V667h-1ZM1207 559h1V585h-1ZM1217 545h1V611h-1ZM1238 528h1V589h-1ZM1249 550h1V632h-1ZM1270 598h1V614h-1ZM1280 575h1V621h-1ZM1290 604h1V671h-1ZM1322 579h1V629h-1ZM1332 616h1V644h-1ZM1343 595h1V677h-1ZM1353 661h1V742h-1ZM1364 715h1V808h-1ZM1374 771h1V832h-1ZM1395 792h1V802h-1ZM1416 738h1V778h-1ZM1426 745h1V802h-1ZM1437 782h1V837h-1ZM1458 807h1V832h-1ZM1468 789h1V841h-1ZM1479 804h1V851h-1ZM1500 790h1V853h-1ZM1531 779h1V843h-1ZM1562 770h1V821h-1ZM1573 796h1V839h-1ZM1583 826h1V836h-1ZM1615 778h1V818h-1ZM1719 639h1V680h-1ZM1740 636h1V684h-1ZM1761 638h1V680h-1ZM1772 677h1V692h-1ZM1792 634h1V684h-1ZM1813 632h1V674h-1ZM1824 656h1V700h-1ZM1834 698h1V703h-1ZM1876 674h1V704h-1ZM1887 693h1V720h-1ZM1939 671h1V717h-1ZM1981 649h1V663h-1ZM85 899h7V919h-7ZM116 903h7V926h-7ZM137 918h7V931h-7ZM179 856h7V865h-7ZM189 864h7V875h-7ZM231 776h7V805h-7ZM315 716h7V718h-7ZM346 715h7V739h-7ZM357 738h7V744h-7ZM367 743h7V777h-7ZM409 763h7V794h-7ZM461 762h7V797h-7ZM524 701h7V716h-7ZM545 667h7V690h-7ZM555 689h7V731h-7ZM629 630h7V637h-7ZM681 580h7V599h-7ZM744 515h7V564h-7ZM754 563h7V619h-7ZM775 619h7V658h-7ZM796 643h7V665h-7ZM817 618h7V640h-7ZM838 655h7V671h-7ZM880 568h7V574h-7ZM921 552h7V569h-7ZM984 462h7V533h-7ZM1005 506h7V551h-7ZM1047 539h7V552h-7ZM1057 551h7V576h-7ZM1068 581h7V655h-7ZM1099 627h7V681h-7ZM1120 669h7V684h-7ZM1141 667h7V671h-7ZM1183 596h7V608h-7ZM1204 559h7V572h-7ZM1214 564h7V604h-7ZM1235 547h7V579h-7ZM1246 572h7V589h-7ZM1267 598h7V603h-7ZM1277 594h7V608h-7ZM1287 607h7V657h-7ZM1319 588h7V617h-7ZM1329 625h7V644h-7ZM1340 630h7V670h-7ZM1350 669h7V722h-7ZM1361 721h7V784h-7ZM1371 783h7V818h-7ZM1392 795h7V800h-7ZM1413 764h7V772h-7ZM1423 771h7V789h-7ZM1434 787h7V828h-7ZM1455 809h7V829h-7ZM1465 831h7V835h-7ZM1476 834h7V839h-7ZM1497 790h7V850h-7ZM1528 801h7V833h-7ZM1559 790h7V803h-7ZM1570 798h7V826h-7ZM1580 831h7V832h-7ZM1612 787h7V808h-7ZM1716 661h7V677h-7ZM1737 669h7V680h-7ZM1758 645h7V659h-7ZM1769 680h7V685h-7ZM1789 636h7V678h-7ZM1810 650h7V666h-7ZM1821 665h7V688h-7ZM1831 699h7V700h-7ZM1873 680h7V697h-7ZM1884 693h7V708h-7ZM1936 684h7V712h-7ZM1978 655h7V662h-7Z" fill="#ef5350"/></g>
<line x1="63" y1="661.5" x2="2483" y2="661.5" stroke="#ef5350" stroke-width="1" stroke-dasharray="1 2" shape-rendering="crispEdges"/>
<path d="M736.6 943.2C741.0 941.8 753.6 937.8 763.2 934.8C772.9 931.8 781.5 928.9 794.5 925.4C807.5 921.9 825.8 918.2 841.4 913.8C857.0 909.4 875.3 903.0 888.4 898.8C901.5 894.6 907.8 892.1 919.7 888.5C931.6 884.9 947.0 881.5 960.0 877.1C973.0 872.7 986.3 866.4 998.0 862.3C1009.7 858.2 1020.3 855.5 1030.4 852.5C1040.5 849.5 1050.1 846.1 1058.6 844.0C1067.0 841.9 1071.7 841.3 1081.1 839.8C1090.5 838.3 1104.6 836.5 1114.9 834.9C1125.2 833.3 1134.6 831.9 1143.0 830.4C1151.4 828.9 1156.1 827.9 1165.5 825.7C1174.9 823.5 1189.0 819.9 1199.3 817.3C1209.6 814.7 1215.8 812.8 1227.5 810.2C1239.2 807.6 1256.8 803.9 1269.7 801.8C1282.6 799.7 1294.9 798.9 1304.9 797.4C1314.9 795.9 1321.6 793.5 1329.7 792.5C1337.8 791.5 1345.0 791.4 1353.3 791.2C1361.6 791.0 1370.8 791.2 1379.5 791.2C1388.2 791.2 1395.9 791.1 1405.6 791.2C1415.2 791.3 1426.8 791.8 1437.4 792.0C1448.0 792.2 1458.5 792.3 1469.0 792.5C1479.5 792.7 1490.1 792.9 1500.5 793.0C1510.9 793.1 1521.2 793.1 1531.6 793.2C1542.0 793.3 1553.0 793.4 1562.7 793.7C1572.4 794.0 1579.5 794.9 1590.0 795.0C1600.5 795.1 1616.2 794.7 1625.6 794.3C1635.0 793.9 1639.4 793.1 1646.4 792.5C1653.4 791.9 1657.1 792.0 1667.6 790.8C1678.1 789.6 1695.3 786.8 1709.3 785.1C1723.3 783.4 1737.6 782.2 1751.4 780.8C1765.2 779.3 1778.5 777.8 1792.4 776.4C1806.3 775.0 1820.7 773.7 1834.7 772.6C1848.8 771.5 1861.1 770.8 1876.7 769.7C1892.3 768.6 1910.8 767.4 1928.4 766.1C1946.0 764.8 1973.4 762.5 1982.4 761.8" fill="none" stroke="#f44336" stroke-width="2.6" stroke-linejoin="round" clip-path="url(#cm)"/>
<rect x="63" y="1014" width="2420" height="180" fill="rgba(126,87,194,0.13)" />
<line x1="63" y1="1014.5" x2="2483" y2="1014.5" stroke="#4caf50" stroke-width="1" stroke-dasharray="5 6"/>
<line x1="63" y1="1194.5" x2="2483" y2="1194.5" stroke="#f44336" stroke-width="1" stroke-dasharray="5 6"/>
<path d="M56.8 1057.5L67.2 1050.1L77.7 1054.6L88.1 1075.7L98.6 1065.2L109.1 1063.4L119.5 1088.7L130.0 1074.4L140.4 1096.4L150.9 1074.2L161.4 1068.2L171.8 1040.6L182.3 1047.1L192.7 1057.6L203.2 1062.7L213.7 1036.4L224.1 1000.8L234.6 1031.4L245.0 1015.1L255.5 1010.8L266.0 1019.1L276.4 1012.1L286.9 1011.3L297.3 999.6L307.8 992.6L318.2 994.3L328.7 1007.1L339.2 1000.6L349.6 1032.6L360.1 1040.1L370.5 1079.2L381.0 1076.7L391.5 1079.9L401.9 1068.2L412.4 1104.0L422.8 1083.4L433.3 1065.2L443.8 1055.6L454.2 1079.2L464.7 1114.5L475.1 1088.4L485.6 1064.7L496.0 1061.9L506.5 1040.9L517.0 1040.9L527.4 1056.9L537.9 1026.9L548.3 1048.9L558.8 1088.7L569.3 1078.9L579.7 1094.2L590.2 1070.9L600.6 1063.4L611.1 1033.4L621.6 1028.4L632.0 1034.9L642.5 1034.9L652.9 1027.6L663.4 1010.1L673.9 1004.6L684.3 1026.6L694.8 1015.8L705.2 1019.1L715.7 1008.3L726.1 986.3L736.6 986.3L747.1 1038.9L757.5 1091.4L768.0 1093.4L778.4 1120.7L788.9 1109.7L799.4 1125.2L809.8 1090.7L820.3 1105.2L830.7 1118.5L841.2 1127.7L851.7 1089.7L862.1 1082.2L872.6 1059.9L883.0 1064.2L893.5 1076.2L904.0 1057.1L914.4 1055.1L924.9 1069.9L935.3 1049.6L945.8 1036.4L956.2 1049.1L966.7 1044.1L977.2 1018.1L987.6 1075.7L998.1 1063.4L1008.5 1091.7L1019.0 1093.9L1029.5 1085.7L1039.9 1084.2L1050.4 1095.2L1060.8 1113.5L1071.3 1159.3L1081.8 1161.8L1092.2 1136.2L1102.7 1163.3L1113.1 1153.8L1123.6 1161.3L1134.0 1144.0L1144.5 1148.5L1155.0 1108.5L1165.4 1093.7L1175.9 1093.7L1186.3 1104.5L1196.8 1070.9L1207.3 1083.9L1217.7 1105.7L1228.2 1073.2L1238.6 1093.2L1249.1 1100.2L1259.6 1097.7L1270.0 1109.5L1280.5 1112.7L1290.9 1143.5L1301.4 1132.0L1311.9 1097.7L1322.3 1112.7L1332.8 1129.5L1343.2 1143.5L1353.7 1168.3L1364.1 1191.3L1374.6 1203.3L1385.1 1168.0L1395.5 1179.3L1406.0 1154.8L1416.4 1158.3L1426.9 1165.0L1437.4 1181.1L1447.8 1163.3L1458.3 1173.3L1468.7 1175.8L1479.2 1177.8L1489.7 1140.8L1500.1 1167.3L1510.6 1130.2L1521.0 1134.7L1531.5 1149.0L1541.9 1145.3L1552.4 1122.0L1562.9 1127.5L1573.3 1139.7L1583.8 1143.3L1594.2 1139.7L1604.7 1110.5L1615.2 1123.2L1625.6 1085.2L1636.1 1066.7L1646.5 1070.7L1657.0 1064.4L1667.5 1056.1L1677.9 1048.4L1688.4 1045.4L1698.8 1031.6L1709.3 1045.4L1719.8 1060.2L1730.2 1054.1L1740.7 1066.2L1751.1 1044.4L1761.6 1057.6L1772.0 1082.2L1782.5 1052.9L1793.0 1084.7L1803.4 1068.7L1813.9 1081.2L1824.3 1096.9L1834.8 1106.0L1845.3 1098.7L1855.7 1091.9L1866.2 1091.2L1876.6 1105.7L1887.1 1115.7L1897.6 1126.7L1908.0 1111.0L1918.5 1095.9L1928.9 1092.2L1939.4 1118.5L1949.8 1091.9L1960.3 1100.2L1970.8 1069.7L1981.2 1076.4" fill="none" stroke="#ffeb3b" stroke-width="1.6" stroke-linejoin="round" clip-path="url(#cr)"/>
<text x="72" y="965.0" font-size="12" fill="#b2b5be" text-anchor="start" font-weight="normal" textLength="17" lengthAdjust="spacingAndGlyphs"  stroke="#b2b5be" stroke-width="0.3">RSI</text>
<text x="94" y="965.0" font-size="12" fill="#868993" text-anchor="start" font-weight="normal" textLength="12.5" lengthAdjust="spacingAndGlyphs"  stroke="#868993" stroke-width="0.3">14</text>
<text x="115" y="965.0" font-size="12" fill="#ffeb3b" text-anchor="start" font-weight="normal" textLength="32" lengthAdjust="spacingAndGlyphs"  stroke="#ffeb3b" stroke-width="0.3">56.34</text>
<text x="72" y="118.2" font-size="16" fill="#d1d4dc" text-anchor="start" font-weight="normal" textLength="88" lengthAdjust="spacingAndGlyphs"  stroke="#d1d4dc" stroke-width="0.3">EURNOK · 1D</text>
<circle cx="184.8" cy="112" r="8.5" fill="#15433f"/><circle cx="184.8" cy="112" r="4" fill="#0fa693"/>
<text x="210" y="117.6" font-size="13" fill="#d1d4dc" text-anchor="start" font-weight="normal" textLength="7.7" lengthAdjust="spacingAndGlyphs"  stroke="#d1d4dc" stroke-width="0.3">O</text>
<text x="220.5" y="117.6" font-size="13" fill="#ef5350" text-anchor="start" font-weight="normal" textLength="51.3" lengthAdjust="spacingAndGlyphs"  stroke="#ef5350" stroke-width="0.3">11.55240</text>
<text x="277.9" y="117.6" font-size="13" fill="#d1d4dc" text-anchor="start" font-weight="normal" textLength="7.7" lengthAdjust="spacingAndGlyphs"  stroke="#d1d4dc" stroke-width="0.3">H</text>
<text x="288.2" y="117.6" font-size="13" fill="#ef5350" text-anchor="start" font-weight="normal" textLength="51.5" lengthAdjust="spacingAndGlyphs"  stroke="#ef5350" stroke-width="0.3">11.56729</text>
<text x="346.2" y="117.6" font-size="13" fill="#d1d4dc" text-anchor="start" font-weight="normal" textLength="5.7" lengthAdjust="spacingAndGlyphs"  stroke="#d1d4dc" stroke-width="0.3">L</text>
<text x="354.1" y="117.6" font-size="13" fill="#ef5350" text-anchor="start" font-weight="normal" textLength="51.3" lengthAdjust="spacingAndGlyphs"  stroke="#ef5350" stroke-width="0.3">11.53489</text>
<text x="412.2" y="117.6" font-size="13" fill="#d1d4dc" text-anchor="start" font-weight="normal" textLength="7" lengthAdjust="spacingAndGlyphs"  stroke="#d1d4dc" stroke-width="0.3">C</text>
<text x="421.4" y="117.6" font-size="13" fill="#ef5350" text-anchor="start" font-weight="normal" textLength="51.4" lengthAdjust="spacingAndGlyphs"  stroke="#ef5350" stroke-width="0.3">11.53820</text>
<text x="479.6" y="117.6" font-size="13" fill="#ef5350" text-anchor="start" font-weight="normal" textLength="51.3" lengthAdjust="spacingAndGlyphs"  stroke="#ef5350" stroke-width="0.3">−0.01420</text>
<text x="537" y="117.6" font-size="13" fill="#ef5350" text-anchor="start" font-weight="normal" textLength="47.5" lengthAdjust="spacingAndGlyphs"  stroke="#ef5350" stroke-width="0.3">(−0.12%)</text>
<rect x="71.5" y="128.5" width="68.5" height="37" rx="4" fill="#131722" stroke="#ef5350"/>
<text x="105.8" y="152" font-size="13" fill="#ef5350" text-anchor="middle" font-weight="normal" textLength="52" lengthAdjust="spacingAndGlyphs"  stroke="#ef5350" stroke-width="0.3">11.53820</text>
<rect x="189.5" y="128.5" width="67.5" height="37" rx="4" fill="#131722" stroke="#26a69a"/>
<text x="223.3" y="152" font-size="13" fill="#26a69a" text-anchor="middle" font-weight="normal" textLength="52" lengthAdjust="spacingAndGlyphs"  stroke="#26a69a" stroke-width="0.3">11.54190</text>
<text x="164.3" y="139.3" font-size="11" fill="#d1d4dc" text-anchor="middle" font-weight="normal" textLength="21" lengthAdjust="spacingAndGlyphs"  stroke="#d1d4dc" stroke-width="0.3">37.0</text>
<rect x="144" y="144" width="41" height="21.5" rx="3" fill="#1e222d"/>
<text x="164.5" y="159.5" font-size="13" fill="#d1d4dc" text-anchor="middle" font-weight="normal" textLength="24.5" lengthAdjust="spacingAndGlyphs"  stroke="#d1d4dc" stroke-width="0.3">0.01</text>
<text x="72" y="187.2" font-size="13" fill="#d1d4dc" text-anchor="start" font-weight="normal" textLength="23.5" lengthAdjust="spacingAndGlyphs"  stroke="#d1d4dc" stroke-width="0.3">EMA</text>
<text x="99.5" y="187.2" font-size="13" fill="#9a9da6" text-anchor="start" font-weight="normal" textLength="64.5" lengthAdjust="spacingAndGlyphs"  stroke="#9a9da6" stroke-width="0.3">200 close 0</text>
<text x="172.8" y="187.2" font-size="13" fill="#ef5350" text-anchor="start" font-weight="normal" textLength="51.5" lengthAdjust="spacingAndGlyphs"  stroke="#ef5350" stroke-width="0.3">11.30135</text>
<text x="72" y="211.1" font-size="13" fill="#d1d4dc" text-anchor="start" font-weight="normal" textLength="23.5" lengthAdjust="spacingAndGlyphs"  stroke="#d1d4dc" stroke-width="0.3">EMA</text>
<text x="99.5" y="211.1" font-size="13" fill="#9a9da6" text-anchor="start" font-weight="normal" textLength="64.5" lengthAdjust="spacingAndGlyphs"  stroke="#9a9da6" stroke-width="0.3">200 close 0</text>
<text x="172.8" y="211.1" font-size="13" fill="#ef5350" text-anchor="start" font-weight="normal" textLength="51.5" lengthAdjust="spacingAndGlyphs"  stroke="#ef5350" stroke-width="0.3">11.30135</text>
<text x="72" y="234.9" font-size="13" fill="#d1d4dc" text-anchor="start" font-weight="normal" textLength="23.5" lengthAdjust="spacingAndGlyphs"  stroke="#d1d4dc" stroke-width="0.3">EMA</text>
<text x="99.5" y="234.9" font-size="13" fill="#9a9da6" text-anchor="start" font-weight="normal" textLength="64.5" lengthAdjust="spacingAndGlyphs"  stroke="#9a9da6" stroke-width="0.3">100 close 0</text>
<text x="172.8" y="234.9" font-size="13" fill="#2196f3" text-anchor="start" font-weight="normal" textLength="51.5" lengthAdjust="spacingAndGlyphs"  stroke="#2196f3" stroke-width="0.3">11.44049</text>
<text x="72" y="258.8" font-size="13" fill="#d1d4dc" text-anchor="start" font-weight="normal" textLength="23.5" lengthAdjust="spacingAndGlyphs"  stroke="#d1d4dc" stroke-width="0.3">EMA</text>
<text x="99.5" y="258.8" font-size="13" fill="#9a9da6" text-anchor="start" font-weight="normal" textLength="64.5" lengthAdjust="spacingAndGlyphs"  stroke="#9a9da6" stroke-width="0.3">200 close 0</text>
<text x="172.8" y="258.8" font-size="13" fill="#ef5350" text-anchor="start" font-weight="normal" textLength="51.5" lengthAdjust="spacingAndGlyphs"  stroke="#ef5350" stroke-width="0.3">11.30135</text>
<text x="72" y="282.90000000000003" font-size="13" fill="#d1d4dc" text-anchor="start" font-weight="normal" textLength="23.5" lengthAdjust="spacingAndGlyphs"  stroke="#d1d4dc" stroke-width="0.3">EMA</text>
<text x="99.5" y="282.90000000000003" font-size="13" fill="#9a9da6" text-anchor="start" font-weight="normal" textLength="57.5" lengthAdjust="spacingAndGlyphs"  stroke="#9a9da6" stroke-width="0.3">50 close 0</text>
<text x="166.7" y="282.90000000000003" font-size="13" fill="#aa00ff" text-anchor="start" font-weight="normal" textLength="51" lengthAdjust="spacingAndGlyphs"  stroke="#aa00ff" stroke-width="0.3">11.45375</text>
<rect x="72.5" y="292.5" width="28" height="20" rx="3" fill="none" stroke="#363a45"/><path d="M82 304.5L86.5 300L91 304.5" fill="none" stroke="#d1d4dc" stroke-width="1.3"/>
<text x="2492.8" y="129.5" font-size="12" fill="#b2b5be" text-anchor="start" font-weight="normal" textLength="47.2" lengthAdjust="spacingAndGlyphs"  stroke="#b2b5be" stroke-width="0.3">12.80000</text>
<text x="2492.8" y="172.0" font-size="12" fill="#b2b5be" text-anchor="start" font-weight="normal" textLength="47.2" lengthAdjust="spacingAndGlyphs"  stroke="#b2b5be" stroke-width="0.3">12.70000</text>
<text x="2492.8" y="214.4" font-size="12" fill="#b2b5be" text-anchor="start" font-weight="normal" textLength="47.2" lengthAdjust="spacingAndGlyphs"  stroke="#b2b5be" stroke-width="0.3">12.60000</text>
<text x="2492.8" y="256.9" font-size="12" fill="#b2b5be" text-anchor="start" font-weight="normal" textLength="47.2" lengthAdjust="spacingAndGlyphs"  stroke="#b2b5be" stroke-width="0.3">12.50000</text>
<text x="2492.8" y="299.4" font-size="12" fill="#b2b5be" text-anchor="start" font-weight="normal" textLength="47.2" lengthAdjust="spacingAndGlyphs"  stroke="#b2b5be" stroke-width="0.3">12.40000</text>
<text x="2492.8" y="341.9" font-size="12" fill="#b2b5be" text-anchor="start" font-weight="normal" textLength="47.2" lengthAdjust="spacingAndGlyphs"  stroke="#b2b5be" stroke-width="0.3">12.30000</text>
<text x="2492.8" y="384.3" font-size="12" fill="#b2b5be" text-anchor="start" font-weight="normal" textLength="47.2" lengthAdjust="spacingAndGlyphs"  stroke="#b2b5be" stroke-width="0.3">12.20000</text>
<text x="2492.8" y="469.3" font-size="12" fill="#b2b5be" text-anchor="start" font-weight="normal" textLength="47.2" lengthAdjust="spacingAndGlyphs"  stroke="#b2b5be" stroke-width="0.3">12.00000</text>
<text x="2492.8" y="511.8" font-size="12" fill="#b2b5be" text-anchor="start" font-weight="normal" textLength="47.2" lengthAdjust="spacingAndGlyphs"  stroke="#b2b5be" stroke-width="0.3">11.90000</text>
<text x="2492.8" y="554.2" font-size="12" fill="#b2b5be" text-anchor="start" font-weight="normal" textLength="47.2" lengthAdjust="spacingAndGlyphs"  stroke="#b2b5be" stroke-width="0.3">11.80000</text>
<text x="2492.8" y="596.7" font-size="12" fill="#b2b5be" text-anchor="start" font-weight="normal" textLength="47.2" lengthAdjust="spacingAndGlyphs"  stroke="#b2b5be" stroke-width="0.3">11.70000</text>
<text x="2492.8" y="639.2" font-size="12" fill="#b2b5be" text-anchor="start" font-weight="normal" textLength="47.2" lengthAdjust="spacingAndGlyphs"  stroke="#b2b5be" stroke-width="0.3">11.60000</text>
<text x="2492.8" y="681.7" font-size="12" fill="#b2b5be" text-anchor="start" font-weight="normal" textLength="47.2" lengthAdjust="spacingAndGlyphs"  stroke="#b2b5be" stroke-width="0.3">11.50000</text>
<text x="2492.8" y="724.1" font-size="12" fill="#b2b5be" text-anchor="start" font-weight="normal" textLength="47.2" lengthAdjust="spacingAndGlyphs"  stroke="#b2b5be" stroke-width="0.3">11.40000</text>
<text x="2492.8" y="766.6" font-size="12" fill="#b2b5be" text-anchor="start" font-weight="normal" textLength="47.2" lengthAdjust="spacingAndGlyphs"  stroke="#b2b5be" stroke-width="0.3">11.30000</text>
<text x="2492.8" y="809.1" font-size="12" fill="#b2b5be" text-anchor="start" font-weight="normal" textLength="47.2" lengthAdjust="spacingAndGlyphs"  stroke="#b2b5be" stroke-width="0.3">11.20000</text>
<text x="2492.8" y="851.6" font-size="12" fill="#b2b5be" text-anchor="start" font-weight="normal" textLength="47.2" lengthAdjust="spacingAndGlyphs"  stroke="#b2b5be" stroke-width="0.3">11.10000</text>
<text x="2492.8" y="894.0" font-size="12" fill="#b2b5be" text-anchor="start" font-weight="normal" textLength="47.2" lengthAdjust="spacingAndGlyphs"  stroke="#b2b5be" stroke-width="0.3">11.00000</text>
<text x="2492.8" y="936.5" font-size="12" fill="#b2b5be" text-anchor="start" font-weight="normal" textLength="47.2" lengthAdjust="spacingAndGlyphs"  stroke="#b2b5be" stroke-width="0.3">10.90000</text>
<text x="2492.5" y="973.8" font-size="12" fill="#b2b5be" text-anchor="start" font-weight="normal" textLength="29" lengthAdjust="spacingAndGlyphs"  stroke="#b2b5be" stroke-width="0.3">80.00</text>
<text x="2492.5" y="1018.8" font-size="12" fill="#b2b5be" text-anchor="start" font-weight="normal" textLength="29" lengthAdjust="spacingAndGlyphs"  stroke="#b2b5be" stroke-width="0.3">70.00</text>
<text x="2492.5" y="1063.8" font-size="12" fill="#b2b5be" text-anchor="start" font-weight="normal" textLength="29" lengthAdjust="spacingAndGlyphs"  stroke="#b2b5be" stroke-width="0.3">60.00</text>
<text x="2492.5" y="1108.8" font-size="12" fill="#b2b5be" text-anchor="start" font-weight="normal" textLength="29" lengthAdjust="spacingAndGlyphs"  stroke="#b2b5be" stroke-width="0.3">50.00</text>
<text x="2492.5" y="1153.8" font-size="12" fill="#b2b5be" text-anchor="start" font-weight="normal" textLength="29" lengthAdjust="spacingAndGlyphs"  stroke="#b2b5be" stroke-width="0.3">40.00</text>
<text x="2492.5" y="1198.8" font-size="12" fill="#b2b5be" text-anchor="start" font-weight="normal" textLength="29" lengthAdjust="spacingAndGlyphs"  stroke="#b2b5be" stroke-width="0.3">30.00</text>
<text x="2492.5" y="1243.8" font-size="12" fill="#b2b5be" text-anchor="start" font-weight="normal" textLength="29" lengthAdjust="spacingAndGlyphs"  stroke="#b2b5be" stroke-width="0.3">20.00</text>
<path d="M2482 410H2545a2 2 0 0 1 2 2V425a2 2 0 0 1 -2 2H2482Z" fill="#ffeb3b"/>
<line x1="2483" y1="418.5" x2="2487" y2="418.5" stroke="#131722" stroke-width="1" />
<text x="2492.8" y="422.8" font-size="12" fill="#131722" text-anchor="start" font-weight="normal" textLength="46.5" lengthAdjust="spacingAndGlyphs"  stroke="#131722" stroke-width="0.3">12.10950</text>
<path d="M2482 513H2545a2 2 0 0 1 2 2V528a2 2 0 0 1 -2 2H2482Z" fill="#ffeb3b"/>
<line x1="2483" y1="521.5" x2="2487" y2="521.5" stroke="#131722" stroke-width="1" />
<text x="2492.8" y="525.8" font-size="12" fill="#131722" text-anchor="start" font-weight="normal" textLength="46.5" lengthAdjust="spacingAndGlyphs"  stroke="#131722" stroke-width="0.3">11.86842</text>
<path d="M2482 576H2545a2 2 0 0 1 2 2V591a2 2 0 0 1 -2 2H2482Z" fill="#ffeb3b"/>
<line x1="2483" y1="584.5" x2="2487" y2="584.5" stroke="#131722" stroke-width="1" />
<text x="2492.8" y="588.8" font-size="12" fill="#131722" text-anchor="start" font-weight="normal" textLength="46.5" lengthAdjust="spacingAndGlyphs"  stroke="#131722" stroke-width="0.3">11.71928</text>
<path d="M2482 627H2545a2 2 0 0 1 2 2V642a2 2 0 0 1 -2 2H2482Z" fill="#ffeb3b"/>
<line x1="2483" y1="635.5" x2="2487" y2="635.5" stroke="#131722" stroke-width="1" />
<text x="2492.8" y="639.8" font-size="12" fill="#131722" text-anchor="start" font-weight="normal" textLength="46.5" lengthAdjust="spacingAndGlyphs"  stroke="#131722" stroke-width="0.3">11.59875</text>
<path d="M2482 678H2545a2 2 0 0 1 2 2V693a2 2 0 0 1 -2 2H2482Z" fill="#ffeb3b"/>
<line x1="2483" y1="686.5" x2="2487" y2="686.5" stroke="#131722" stroke-width="1" />
<text x="2492.8" y="690.8" font-size="12" fill="#131722" text-anchor="start" font-weight="normal" textLength="46.5" lengthAdjust="spacingAndGlyphs"  stroke="#131722" stroke-width="0.3">11.47821</text>
<path d="M2482 742H2545a2 2 0 0 1 2 2V757a2 2 0 0 1 -2 2H2482Z" fill="#ffeb3b"/>
<line x1="2483" y1="750.5" x2="2487" y2="750.5" stroke="#131722" stroke-width="1" />
<text x="2492.8" y="754.8" font-size="12" fill="#131722" text-anchor="start" font-weight="normal" textLength="46.5" lengthAdjust="spacingAndGlyphs"  stroke="#131722" stroke-width="0.3">11.32907</text>
<path d="M2482 844H2545a2 2 0 0 1 2 2V859a2 2 0 0 1 -2 2H2482Z" fill="#ffeb3b"/>
<line x1="2483" y1="852.5" x2="2487" y2="852.5" stroke="#131722" stroke-width="1" />
<text x="2492.8" y="856.8" font-size="12" fill="#131722" text-anchor="start" font-weight="normal" textLength="46.5" lengthAdjust="spacingAndGlyphs"  stroke="#131722" stroke-width="0.3">11.08799</text>
<path d="M2482 653H2545a2 2 0 0 1 2 2V668a2 2 0 0 1 -2 2H2482Z" fill="#ef5350"/>
<line x1="2483" y1="661.5" x2="2487" y2="661.5" stroke="#ffffff" stroke-width="1" />
<text x="2492.8" y="665.8" font-size="12" fill="#ffffff" text-anchor="start" font-weight="normal" textLength="46.5" lengthAdjust="spacingAndGlyphs"  stroke="#ffffff" stroke-width="0.3">11.53820</text>
<line x1="88.5" y1="1256" x2="88.5" y2="1260" stroke="#2f3342" stroke-width="1" />
<text x="88.0" y="1274" font-size="12" fill="#c1c4cd" text-anchor="middle" font-weight="normal" textLength="12.2" lengthAdjust="spacingAndGlyphs"  stroke="#c1c4cd" stroke-width="0.3">20</text>
<line x1="171.5" y1="1256" x2="171.5" y2="1260" stroke="#2f3342" stroke-width="1" />
<text x="171.0" y="1274" font-size="12" fill="#c1c4cd" text-anchor="middle" font-weight="bold" textLength="19.7" lengthAdjust="spacingAndGlyphs" >Mar</text>
<line x1="255.5" y1="1256" x2="255.5" y2="1260" stroke="#2f3342" stroke-width="1" />
<text x="255.0" y="1274" font-size="12" fill="#c1c4cd" text-anchor="middle" font-weight="normal" textLength="12.2" lengthAdjust="spacingAndGlyphs"  stroke="#c1c4cd" stroke-width="0.3">10</text>
<line x1="339.5" y1="1256" x2="339.5" y2="1260" stroke="#2f3342" stroke-width="1" />
<text x="339.0" y="1274" font-size="12" fill="#c1c4cd" text-anchor="middle" font-weight="normal" textLength="12.2" lengthAdjust="spacingAndGlyphs"  stroke="#c1c4cd" stroke-width="0.3">20</text>
<line x1="454.5" y1="1256" x2="454.5" y2="1260" stroke="#2f3342" stroke-width="1" />
<text x="454.0" y="1274" font-size="12" fill="#c1c4cd" text-anchor="middle" font-weight="bold" textLength="18.7" lengthAdjust="spacingAndGlyphs" >Apr</text>
<line x1="537.5" y1="1256" x2="537.5" y2="1260" stroke="#2f3342" stroke-width="1" />
<text x="537.0" y="1274" font-size="12" fill="#c1c4cd" text-anchor="middle" font-weight="normal" textLength="12.2" lengthAdjust="spacingAndGlyphs"  stroke="#c1c4cd" stroke-width="0.3">11</text>
<line x1="621.5" y1="1256" x2="621.5" y2="1260" stroke="#2f3342" stroke-width="1" />
<text x="621.0" y="1274" font-size="12" fill="#c1c4cd" text-anchor="middle" font-weight="normal" textLength="12.2" lengthAdjust="spacingAndGlyphs"  stroke="#c1c4cd" stroke-width="0.3">20</text>
<line x1="715.5" y1="1256" x2="715.5" y2="1260" stroke="#2f3342" stroke-width="1" />
<text x="715.0" y="1274" font-size="12" fill="#c1c4cd" text-anchor="middle" font-weight="bold" textLength="21.1" lengthAdjust="spacingAndGlyphs" >May</text>
<line x1="799.5" y1="1256" x2="799.5" y2="1260" stroke="#2f3342" stroke-width="1" />
<text x="799.0" y="1274" font-size="12" fill="#c1c4cd" text-anchor="middle" font-weight="normal" textLength="12.2" lengthAdjust="spacingAndGlyphs"  stroke="#c1c4cd" stroke-width="0.3">10</text>
<line x1="883.5" y1="1256" x2="883.5" y2="1260" stroke="#2f3342" stroke-width="1" />
<text x="883.0" y="1274" font-size="12" fill="#c1c4cd" text-anchor="middle" font-weight="normal" textLength="12.2" lengthAdjust="spacingAndGlyphs"  stroke="#c1c4cd" stroke-width="0.3">19</text>
<line x1="998.5" y1="1256" x2="998.5" y2="1260" stroke="#2f3342" stroke-width="1" />
<text x="998.0" y="1274" font-size="12" fill="#c1c4cd" text-anchor="middle" font-weight="bold" textLength="20.4" lengthAdjust="spacingAndGlyphs" >Jun</text>
<line x1="1081.5" y1="1256" x2="1081.5" y2="1260" stroke="#2f3342" stroke-width="1" />
<text x="1081.0" y="1274" font-size="12" fill="#c1c4cd" text-anchor="middle" font-weight="normal" textLength="12.2" lengthAdjust="spacingAndGlyphs"  stroke="#c1c4cd" stroke-width="0.3">11</text>
<line x1="1165.5" y1="1256" x2="1165.5" y2="1260" stroke="#2f3342" stroke-width="1" />
<text x="1165.0" y="1274" font-size="12" fill="#c1c4cd" text-anchor="middle" font-weight="normal" textLength="12.2" lengthAdjust="spacingAndGlyphs"  stroke="#c1c4cd" stroke-width="0.3">20</text>
<line x1="1270.5" y1="1256" x2="1270.5" y2="1260" stroke="#2f3342" stroke-width="1" />
<text x="1270.0" y="1274" font-size="12" fill="#c1c4cd" text-anchor="middle" font-weight="bold" textLength="16.9" lengthAdjust="spacingAndGlyphs" >Jul</text>
<line x1="1353.5" y1="1256" x2="1353.5" y2="1260" stroke="#2f3342" stroke-width="1" />
<text x="1353.0" y="1274" font-size="12" fill="#c1c4cd" text-anchor="middle" font-weight="normal" textLength="12.2" lengthAdjust="spacingAndGlyphs"  stroke="#c1c4cd" stroke-width="0.3">11</text>
<line x1="1437.5" y1="1256" x2="1437.5" y2="1260" stroke="#2f3342" stroke-width="1" />
<text x="1437.0" y="1274" font-size="12" fill="#c1c4cd" text-anchor="middle" font-weight="normal" textLength="12.2" lengthAdjust="spacingAndGlyphs"  stroke="#c1c4cd" stroke-width="0.3">20</text>
<line x1="1541.5" y1="1256" x2="1541.5" y2="1260" stroke="#2f3342" stroke-width="1" />
<text x="1541.0" y="1274" font-size="12" fill="#c1c4cd" text-anchor="middle" font-weight="bold" textLength="20.8" lengthAdjust="spacingAndGlyphs" >Aug</text>
<line x1="1625.5" y1="1256" x2="1625.5" y2="1260" stroke="#2f3342" stroke-width="1" />
<text x="1625.0" y="1274" font-size="12" fill="#c1c4cd" text-anchor="middle" font-weight="normal" textLength="12.2" lengthAdjust="spacingAndGlyphs"  stroke="#c1c4cd" stroke-width="0.3">10</text>
<line x1="1709.5" y1="1256" x2="1709.5" y2="1260" stroke="#2f3342" stroke-width="1" />
<text x="1709.0" y="1274" font-size="12" fill="#c1c4cd" text-anchor="middle" font-weight="normal" textLength="12.2" lengthAdjust="spacingAndGlyphs"  stroke="#c1c4cd" stroke-width="0.3">20</text>
<line x1="1824.5" y1="1256" x2="1824.5" y2="1260" stroke="#2f3342" stroke-width="1" />
<text x="1824.0" y="1274" font-size="12" fill="#c1c4cd" text-anchor="middle" font-weight="bold" textLength="19.4" lengthAdjust="spacingAndGlyphs" >Sep</text>
<line x1="1908.5" y1="1256" x2="1908.5" y2="1260" stroke="#2f3342" stroke-width="1" />
<text x="1908.0" y="1274" font-size="12" fill="#c1c4cd" text-anchor="middle" font-weight="normal" textLength="12.2" lengthAdjust="spacingAndGlyphs"  stroke="#c1c4cd" stroke-width="0.3">11</text>
<line x1="2002.5" y1="1256" x2="2002.5" y2="1260" stroke="#2f3342" stroke-width="1" />
<text x="2002.0" y="1274" font-size="12" fill="#c1c4cd" text-anchor="middle" font-weight="normal" textLength="12.2" lengthAdjust="spacingAndGlyphs"  stroke="#c1c4cd" stroke-width="0.3">20</text>
<line x1="2085.5" y1="1256" x2="2085.5" y2="1260" stroke="#2f3342" stroke-width="1" />
<text x="2085.0" y="1274" font-size="12" fill="#c1c4cd" text-anchor="middle" font-weight="bold" textLength="19.1" lengthAdjust="spacingAndGlyphs" >Oct</text>
<line x1="2169.5" y1="1256" x2="2169.5" y2="1260" stroke="#2f3342" stroke-width="1" />
<text x="2169.0" y="1274" font-size="12" fill="#c1c4cd" text-anchor="middle" font-weight="normal" textLength="6" lengthAdjust="spacingAndGlyphs"  stroke="#c1c4cd" stroke-width="0.3">9</text>
<line x1="2253.5" y1="1256" x2="2253.5" y2="1260" stroke="#2f3342" stroke-width="1" />
<text x="2253.0" y="1274" font-size="12" fill="#c1c4cd" text-anchor="middle" font-weight="normal" textLength="12.2" lengthAdjust="spacingAndGlyphs"  stroke="#c1c4cd" stroke-width="0.3">18</text>
<line x1="2378.5" y1="1256" x2="2378.5" y2="1260" stroke="#2f3342" stroke-width="1" />
<text x="2378.0" y="1274" font-size="12" fill="#c1c4cd" text-anchor="middle" font-weight="bold" textLength="21.1" lengthAdjust="spacingAndGlyphs" >Nov</text>
<line x1="2462.5" y1="1256" x2="2462.5" y2="1260" stroke="#2f3342" stroke-width="1" />
<text x="2462.0" y="1274" font-size="12" fill="#c1c4cd" text-anchor="middle" font-weight="normal" textLength="12.2" lengthAdjust="spacingAndGlyphs"  stroke="#c1c4cd" stroke-width="0.3">12</text>
<circle cx="2517.5" cy="1269.6" r="5.3" fill="none" stroke="#b2b5be" stroke-width="1.1"/><path d="M2523.1 1269.6L2525.3 1269.6M2521.5 1273.6L2523.0 1275.1M2517.5 1275.2L2517.5 1277.4M2513.5 1273.6L2512.0 1275.1M2511.9 1269.6L2509.7 1269.6M2513.5 1265.6L2512.0 1264.1M2517.5 1264.0L2517.5 1261.8M2521.5 1265.6L2523.0 1264.1" stroke="#b2b5be" stroke-width="1.1"/>
<rect x="56.5" y="1237.5" width="8" height="26" rx="4" fill="#11141f" stroke="#2a2e3a"/><path d="M61.3 1247L59.2 1250.5L61.3 1254" fill="none" stroke="#b2b5be" stroke-width="1"/>
<text x="79.5" y="1307.7" font-size="13" fill="#d1d4dc" text-anchor="start" font-weight="normal" textLength="61.5" lengthAdjust="spacingAndGlyphs"  stroke="#d1d4dc" stroke-width="0.3">Powered by</text>
<text x="144.3" y="1307.7" font-size="13" fill="#2196f3" text-anchor="start" font-weight="normal" textLength="64.5" lengthAdjust="spacingAndGlyphs"  stroke="#2196f3" stroke-width="0.3">TradingView</text>
<line x1="221.5" y1="1285" x2="221.5" y2="1321" stroke="#2a2e3a" stroke-width="1" />
<text x="238.8" y="1307.7" font-size="13.5" fill="#868993" text-anchor="start" font-weight="normal" textLength="14.5" lengthAdjust="spacingAndGlyphs"  stroke="#868993" stroke-width="0.3">1D</text>
<text x="268" y="1307.7" font-size="13.5" fill="#868993" text-anchor="start" font-weight="normal" textLength="15" lengthAdjust="spacingAndGlyphs"  stroke="#868993" stroke-width="0.3">5D</text>
<text x="298.5" y="1307.7" font-size="13.5" fill="#868993" text-anchor="start" font-weight="normal" textLength="17" lengthAdjust="spacingAndGlyphs"  stroke="#868993" stroke-width="0.3">1M</text>
<text x="329" y="1307.7" font-size="13.5" fill="#868993" text-anchor="start" font-weight="normal" textLength="17.5" lengthAdjust="spacingAndGlyphs"  stroke="#868993" stroke-width="0.3">3M</text>
<text x="360" y="1307.7" font-size="13.5" fill="#868993" text-anchor="start" font-weight="normal" textLength="18" lengthAdjust="spacingAndGlyphs"  stroke="#868993" stroke-width="0.3">6M</text>
<text x="392" y="1307.7" font-size="13.5" fill="#868993" text-anchor="start" font-weight="normal" textLength="15" lengthAdjust="spacingAndGlyphs"  stroke="#868993" stroke-width="0.3">1Y</text>
<text x="421" y="1307.7" font-size="13.5" fill="#868993" text-anchor="start" font-weight="normal" textLength="15" lengthAdjust="spacingAndGlyphs"  stroke="#868993" stroke-width="0.3">5Y</text>
<text x="450" y="1307.7" font-size="13.5" fill="#868993" text-anchor="start" font-weight="normal" textLength="17" lengthAdjust="spacingAndGlyphs"  stroke="#868993" stroke-width="0.3">All</text>
<line x1="483.5" y1="1292" x2="483.5" y2="1313" stroke="#2a2e3a" stroke-width="1" />
<g fill="none" stroke="#9598a1" stroke-width="1.2" stroke-linejoin="round"><path d="M503 1301V1297.5A1.5 1.5 0 0 1 504.5 1296H515A1.5 1.5 0 0 1 516.5 1297.5V1308A1.5 1.5 0 0 1 515 1309.5H509.5"/><path d="M503 1299.5H516.5M506 1294V1296M513.5 1294V1296"/><path d="M500 1305H507.5M505 1302.5L507.5 1305L505 1307.5"/></g>
<text x="2310" y="1307.7" font-size="13.5" fill="#868993" text-anchor="start" font-weight="normal" textLength="109" lengthAdjust="spacingAndGlyphs"  stroke="#868993" stroke-width="0.3">08:36:34 (UTC+2)</text>
<line x1="2435.5" y1="1292" x2="2435.5" y2="1313.5" stroke="#2a2e3a" stroke-width="1" />
<text x="2452.5" y="1307.7" font-size="13.5" fill="#868993" text-anchor="start" font-weight="normal" textLength="12.5" lengthAdjust="spacingAndGlyphs"  stroke="#868993" stroke-width="0.3">%</text>
<text x="2480.3" y="1307.7" font-size="13.5" fill="#868993" text-anchor="start" font-weight="normal" textLength="18" lengthAdjust="spacingAndGlyphs"  stroke="#868993" stroke-width="0.3">log</text>
<text x="2512.7" y="1307.7" font-size="13.5" fill="#868993" text-anchor="start" font-weight="normal" textLength="26" lengthAdjust="spacingAndGlyphs"  stroke="#868993" stroke-width="0.3">auto</text>
<circle cx="2554" cy="1303" r="25" fill="#232935"/>
<rect x="0" y="1321" width="2557" height="6" fill="#222834" />
<rect x="2556" y="1270" width="1" height="51" fill="#15181f" />
<path d="M2548 1296.5L2541.5 1304L2548 1311.5" fill="none" stroke="#4a9df0" stroke-width="2"/>
<path d="M1283 1327L1288 1322.5L1293 1327Z" fill="#4a9df0"/>
</svg>
</body></html>
